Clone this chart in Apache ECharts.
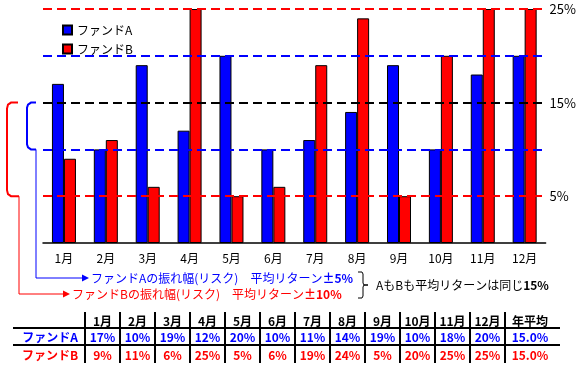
<!DOCTYPE html>
<html>
  <head>
    <meta charset="utf-8" />
    <title>ファンド比較</title>
    <style type="text/css">
      html,
      body {
        margin: 0;
        padding: 0;
        background: #fff;
      }
    </style>
    <script src="https://cdn.jsdelivr.net/npm/echarts@6/dist/echarts.min.js"></script>
  </head>
  <body>
    <div id="chart" style="width: 579px; height: 367px"></div>
    <script type="text/javascript">
      // データ
      var months = ["1月", "2月", "3月", "4月", "5月", "6月", "7月", "8月", "9月", "10月", "11月", "12月"];
      var fundA = [17, 10, 19, 12, 20, 10, 11, 14, 19, 10, 18, 20];
      var fundB = [9, 11, 6, 25, 5, 6, 19, 24, 5, 20, 25, 25];
      var yearAvg = [15.0, 15.0];
      var yTickLabels = [5, 15, 25];
      var refLevels = [5, 10, 15, 20, 25];

      var BLUE = "#0000ff";
      var RED = "#ff0000";
      var FONT = "Noto Sans CJK JP";

      var chart = echarts.init(document.getElementById("chart"));

      var refColors = { 5: RED, 10: BLUE, 15: "#000", 20: BLUE, 25: RED };

      var option = {
        animation: false,
        textStyle: { fontFamily: FONT },
        grid: { left: 43, right: 31, top: 9, bottom: 124 },
        legend: {
          orient: "vertical",
          left: 57,
          top: 19,
          itemWidth: 9,
          itemHeight: 9,
          itemGap: 7,
          icon: "rect",
          textStyle: { fontSize: 12, color: "#000", fontFamily: FONT },
          data: ["ファンドA", "ファンドB"],
        },
        xAxis: {
          type: "category",
          data: months,
          axisLine: { lineStyle: { color: "#000", width: 1.5 } },
          axisTick: { inside: true, length: 3, interval: 0, lineStyle: { color: "#000" } },
          axisLabel: { color: "#000", fontSize: 12, margin: 9, interval: 0, fontFamily: FONT },
        },
        yAxis: {
          type: "value",
          position: "right",
          min: 0,
          max: 25,
          interval: 5,
          axisLine: { show: false },
          axisTick: { show: false },
          splitLine: { show: false },
          axisLabel: {
            color: "#000",
            fontSize: 13,
            margin: 4,
            fontFamily: FONT,
            formatter: function (v) {
              return yTickLabels.indexOf(v) >= 0 ? v + "%" : "";
            },
          },
        },
        series: [
          {
            name: "ファンドA",
            type: "bar",
            data: fundA,
            barWidth: 12,
            barGap: "0%",
            itemStyle: { color: BLUE, borderColor: "#000", borderWidth: 1 },
            markLine: {
              silent: true,
              symbol: "none",
              label: { show: false },
              data: refLevels.map(function (v) {
                return {
                  yAxis: v,
                  lineStyle: { color: refColors[v], type: [9, 5], width: 2 },
                };
              }),
            },
          },
          {
            name: "ファンドB",
            type: "bar",
            data: fundB,
            barWidth: 12,
            itemStyle: { color: RED, borderColor: "#000", borderWidth: 1 },
          },
        ],
      };
      chart.setOption(option);

      // 注釈と表
      function yPx(v) {
        return chart.convertToPixel({ yAxisIndex: 0 }, v);
      }
      var y15 = yPx(15), y10 = yPx(10), y5 = yPx(5);
      var g = [];

      // 青い括弧と矢印
      g.push({
        type: "polyline",
        shape: { points: [[36, y15], [31, y15], [28, y15 + 2], [27, y15 + 5], [27, y10 - 5], [28, y10 - 2], [31, y10], [36, y10]] },
        style: { stroke: BLUE, lineWidth: 2, fill: null },
      });
      g.push({
        type: "polyline",
        shape: { points: [[36, y10], [36, 278], [84, 278]] },
        style: { stroke: BLUE, lineWidth: 1, fill: null },
      });
      g.push({
        type: "polygon",
        shape: { points: [[82, 274.5], [89, 278], [82, 281.5]] },
        style: { fill: BLUE },
      });
      g.push({
        type: "text",
        x: 91,
        y: 278,
        style: {
          text: "ファンドAの振れ幅(リスク)　平均リターン{b|±5%}",
          fill: BLUE,
          font: "12px " + FONT,
          verticalAlign: "middle",
          rich: { b: { fontWeight: "bold", fill: BLUE, fontSize: 12, fontFamily: FONT } },
        },
      });

      // 赤い括弧と矢印
      g.push({
        type: "polyline",
        shape: { points: [[18, y15], [11, y15], [8, y15 + 2], [7, y15 + 6], [7, y5 - 6], [8, y5 - 2], [11, y5], [19, y5]] },
        style: { stroke: RED, lineWidth: 2, fill: null },
      });
      g.push({
        type: "polyline",
        shape: { points: [[19, y5], [19, 294], [65, 294]] },
        style: { stroke: RED, lineWidth: 1, fill: null },
      });
      g.push({
        type: "polygon",
        shape: { points: [[63, 290.5], [70, 294], [63, 297.5]] },
        style: { fill: RED },
      });
      g.push({
        type: "text",
        x: 72,
        y: 294,
        style: {
          text: "ファンドBの振れ幅(リスク)　平均リターン{b|±10%}",
          fill: RED,
          font: "12px " + FONT,
          verticalAlign: "middle",
          rich: { b: { fontWeight: "bold", fill: RED, fontSize: 12, fontFamily: FONT } },
        },
      });

      // 右の括弧
      g.push({
        type: "polyline",
        shape: { points: [[358, 272], [362, 272], [363, 274], [363, 283], [364, 285], [368, 285], [364, 285], [363, 287], [363, 296], [362, 298], [358, 298]] },
        style: { stroke: "#000", lineWidth: 1, fill: null },
      });
      g.push({
        type: "text",
        x: 376,
        y: 285,
        style: {
          text: "AもBも平均リターンは同じ{b|" + yearAvg[0] + "%}",
          fill: "#000",
          font: "12px " + FONT,
          verticalAlign: "middle",
          rich: { b: { fontWeight: "bold", fill: "#000", fontSize: 12, fontFamily: FONT } },
        },
      });

      // 表
      var colX0 = 85, colW = 35;
      var rowY = [321, 337, 355];
      function cell(text, cx, cy, color) {
        g.push({
          type: "text",
          x: cx,
          y: cy,
          style: {
            text: text,
            fill: color,
            font: "bold 12px " + FONT,
            align: "center",
            verticalAlign: "middle",
          },
        });
      }
      months.forEach(function (m, i) {
        var cx = colX0 + colW * i + colW / 2;
        cell(m, cx, rowY[0], "#000");
        cell(fundA[i] + "%", cx, rowY[1], BLUE);
        cell(fundB[i] + "%", cx, rowY[2], RED);
      });
      var avgX = colX0 + colW * 12 + 25;
      cell("年平均", avgX, rowY[0], "#000");
      cell(yearAvg[0].toFixed(1) + "%", avgX, rowY[1], BLUE);
      cell(yearAvg[1].toFixed(1) + "%", avgX, rowY[2], RED);
      cell("ファンドA", 50, rowY[1], BLUE);
      cell("ファンドB", 50, rowY[2], RED);

      [328, 345].forEach(function (y) {
        g.push({
          type: "line",
          shape: { x1: 13, y1: y, x2: 560, y2: y },
          style: { stroke: "#000", lineWidth: 2 },
        });
      });
      for (var i = 0; i <= 12; i++) {
        var x = colX0 + colW * i;
        g.push({
          type: "line",
          shape: { x1: x, y1: 312, x2: x, y2: 363 },
          style: { stroke: "#000", lineWidth: 2 },
        });
      }

      chart.setOption({ graphic: g });
    </script>
  </body>
</html>
